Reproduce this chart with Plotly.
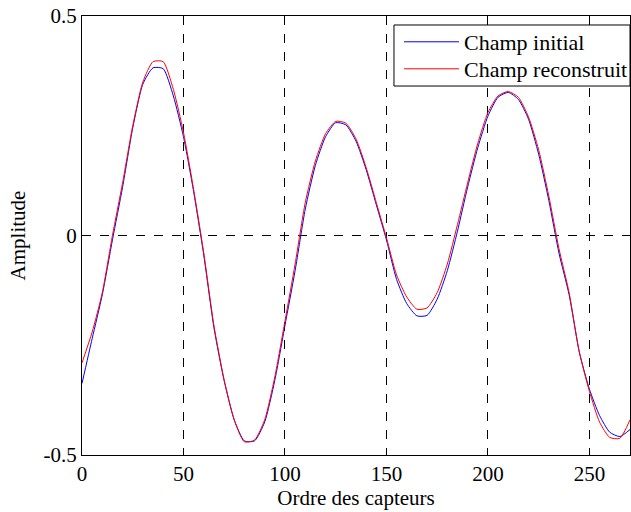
import plotly.graph_objects as go

x = list(range(0, 275, 5))

champ_initial = [
    -0.337, -0.235, -0.135, -0.010, 0.110, 0.245, 0.345, 0.382, 0.380, 0.318,
    0.225, 0.100, -0.045, -0.210, -0.330, -0.420, -0.468, -0.468, -0.425, -0.330,
    -0.205, -0.080, 0.060, 0.160, 0.225, 0.257, 0.252, 0.215, 0.150, 0.070,
    -0.010, -0.100, -0.155, -0.183, -0.182, -0.145, -0.080, 0.010, 0.110, 0.200,
    0.272, 0.315, 0.326, 0.310, 0.265, 0.185, 0.080, -0.040, -0.135, -0.265,
    -0.350, -0.410, -0.448, -0.458, -0.442,
]

champ_reconstruit = [
    -0.290, -0.220, -0.130, 0.000, 0.120, 0.250, 0.350, 0.396, 0.396, 0.333,
    0.235, 0.105, -0.040, -0.205, -0.328, -0.420, -0.470, -0.466, -0.420, -0.322,
    -0.195, -0.065, 0.075, 0.170, 0.232, 0.260, 0.256, 0.220, 0.155, 0.075,
    -0.005, -0.090, -0.140, -0.168, -0.165, -0.130, -0.065, 0.025, 0.120, 0.210,
    0.280, 0.318, 0.328, 0.315, 0.270, 0.195, 0.090, -0.030, -0.130, -0.265,
    -0.355, -0.425, -0.460, -0.462, -0.420,
]

x_ticks = [0, 50, 100, 150, 200, 250]
y_ticks = [-0.5, 0, 0.5]
y_tick_labels = ["-0.5", "0", "0.5"]

font_family = "Liberation Serif, Times New Roman, serif"
fsize = 21

fig = go.Figure()
fig.add_trace(go.Scatter(x=x, y=champ_initial, mode="lines", name="Champ initial",
                         legend="legend",
                         line=dict(color="#0000ff", width=1, shape="spline", smoothing=0.6)))
fig.add_trace(go.Scatter(x=x, y=champ_reconstruit, mode="lines", name="Champ reconstruit",
                         legend="legend2",
                         line=dict(color="#ff0000", width=1, shape="spline", smoothing=0.6)))

axis_common = dict(
    showline=True, linecolor="black", linewidth=1, mirror="ticks",
    ticks="inside", ticklen=5, tickcolor="black",
    showgrid=True, gridcolor="black", gridwidth=1, griddash="dash",
    zeroline=False, ticklabeloverflow="allow",
    tickfont=dict(family=font_family, size=fsize, color="black"),
)

fig.update_xaxes(range=[0, 270], tickvals=x_ticks,
                 title=dict(text="Ordre des capteurs", font=dict(family=font_family, size=fsize, color="black"),
                            standoff=2),
                 **axis_common)
fig.update_yaxes(range=[-0.5, 0.5], tickvals=y_ticks, ticktext=y_tick_labels,
                 title=dict(text="Amplitude", font=dict(family=font_family, size=fsize, color="black"),
                            standoff=12),
                 **axis_common)

legend_common = dict(xanchor="left", yanchor="middle", bgcolor="rgba(0,0,0,0)",
                     borderwidth=0,
                     font=dict(family=font_family, size=22, color="black"),
                     itemwidth=55)

fig.update_layout(
    width=631, height=512,
    margin=dict(l=82, r=1, t=16, b=57, autoexpand=False),
    paper_bgcolor="white", plot_bgcolor="white",
    showlegend=True,
    legend=dict(x=0.5785, y=0.9408, **legend_common),
    legend2=dict(x=0.5785, y=0.8793, **legend_common),
    shapes=[dict(type="rect", xref="paper", yref="paper",
                 x0=0.5693, x1=1.0, y0=0.8405, y1=0.9795,
                 fillcolor="white", line=dict(color="black", width=1), layer="above")],
)

fig.write_html("out.html", config={"displayModeBar": False},
               post_script="document.body.style.margin='0';")
